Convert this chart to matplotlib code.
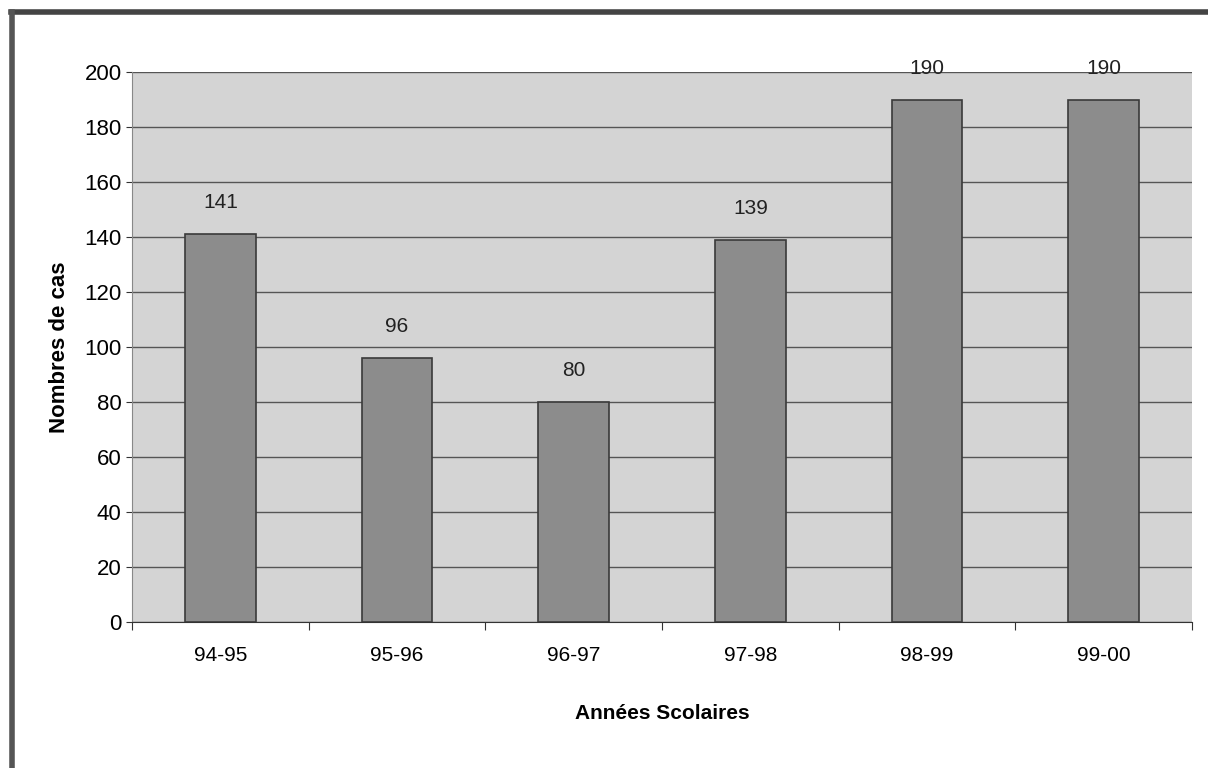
import matplotlib.pyplot as plt
import numpy as np
from matplotlib.lines import Line2D

annees = ['94-95', '95-96', '96-97', '97-98', '98-99', '99-00']
cas = [141, 96, 80, 139, 190, 190]
yticks = [0, 20, 40, 60, 80, 100, 120, 140, 160, 180, 200]

plt.rcParams['font.family'] = ['Liberation Sans', 'DejaVu Sans']

fig = plt.figure(figsize=(12.08, 7.68), dpi=100)
ax = fig.add_axes([0.1093, 0.190, 0.8775, 0.716])

x = np.arange(len(annees))
ax.bar(x, cas, width=0.4, color='#8c8c8c', edgecolor='#3a3a3a', linewidth=1.2, zorder=3)
for xi, v in zip(x, cas):
    ax.text(xi, v + 8, str(v), ha='center', va='bottom', fontsize=15, color='#222222')

ax.set_facecolor('#d4d4d4')
ax.set_xlim(-0.5, len(annees) - 0.5)
ax.set_ylim(0, 200)
ax.set_yticks(yticks)
ax.yaxis.grid(True, color='#555555', linewidth=1)
ax.set_axisbelow(True)

# ticks between categories, labels centred under bars
ax.set_xticks(np.arange(-0.5, len(annees), 1.0))
ax.set_xticklabels([])
ax.set_xticks(x, minor=True)
ax.set_xticklabels(annees, minor=True, fontsize=15)
ax.tick_params(axis='x', which='minor', length=0, pad=17)
ax.tick_params(axis='x', which='major', length=6, color='#333333')
ax.tick_params(axis='y', labelsize=16, length=4, color='#333333')

for s in ['top', 'right']:
    ax.spines[s].set_visible(False)
ax.spines['left'].set_color('#888888')
ax.spines['bottom'].set_color('#333333')

ax.set_ylabel('Nombres de cas', fontsize=16, fontweight='bold', labelpad=10)
ax.set_xlabel('Années Scolaires', fontsize=15, fontweight='bold', labelpad=28)

# scanned frame on top and left
fig.add_artist(Line2D([0.009, 1.0], [0.985, 0.985], transform=fig.transFigure,
                      color='#444444', linewidth=4))
fig.add_artist(Line2D([0.010, 0.010], [0.0, 0.985], transform=fig.transFigure,
                      color='#555555', linewidth=4))

fig.savefig('out.png', dpi=100)
